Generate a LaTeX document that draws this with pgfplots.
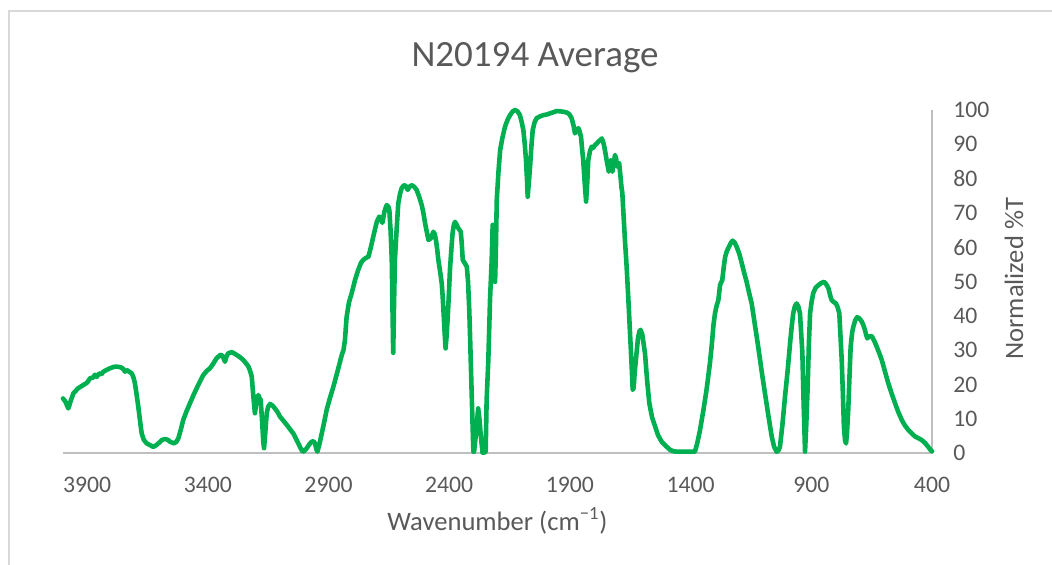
\documentclass[border=0pt]{standalone}
\usepackage{pgfplots}
\usepackage{pgfplotstable}
\pgfplotsset{compat=1.18}
\usepackage{fontspec}
\setmainfont{Carlito}
\definecolor{txt}{HTML}{595959}
\definecolor{axgray}{HTML}{BFBFBF}
\definecolor{framegray}{HTML}{D9D9D9}
\definecolor{linegreen}{HTML}{00B050}

\pgfplotstableread{
wn val
4000 15.9
3990 15.0
3978 13.0
3965 15.8
3957 17.4
3937 18.9
3916 19.8
3900 20.5
3888 21.8
3875 22.0
3868 22.8
3860 22.2
3850 23.2
3840 23.0
3833 23.7
3820 24.2
3805 24.7
3790 25.1
3778 25.2
3761 25.0
3750 24.5
3743 23.7
3736 24.2
3730 23.9
3715 23.2
3708 22.0
3702 20.3
3695 17.0
3688 13.5
3681 9.5
3674 5.7
3665 3.8
3653 2.8
3640 2.3
3626 1.8
3615 2.2
3605 2.8
3590 3.8
3577 4.1
3565 3.8
3557 3.3
3540 2.8
3530 3.3
3522 4.3
3512 6.8
3502 9.6
3488 12.2
3474 14.5
3460 16.8
3446 18.9
3432 20.9
3419 22.7
3405 23.9
3391 24.7
3378 26.0
3364 27.6
3350 28.5
3343 28.6
3336 27.8
3329 26.6
3322 28.3
3315 29.1
3301 29.4
3290 29.0
3281 28.6
3268 28.0
3253 27.1
3240 26.0
3232 25.2
3225 24.0
3218 22.2
3212 17.0
3205 11.6
3198 15.0
3191 16.9
3186 16.0
3181 15.5
3175 9.0
3170 3.0
3167 1.4
3163 5.0
3156 11.6
3150 13.5
3142 14.3
3132 13.8
3122 13.0
3110 11.8
3101 10.6
3088 9.5
3073 8.2
3060 7.0
3046 5.7
3035 4.2
3025 2.8
3015 1.3
3007 0.4
3000 0.6
2990 1.4
2980 2.5
2970 3.3
2962 3.4
2956 2.8
2950 1.0
2946 0.4
2938 2.5
2928 5.7
2918 9.0
2908 12.5
2895 15.8
2880 19.3
2862 24.0
2845 28.6
2838 30.0
2832 32.9
2825 39.7
2815 44.0
2804 46.6
2790 50.5
2777 53.4
2765 55.5
2756 56.3
2745 56.9
2735 57.2
2728 59.0
2721 61.1
2710 64.5
2700 67.4
2690 68.9
2683 68.5
2677 67.1
2668 70.5
2659 72.3
2652 71.8
2648 70.8
2643 65.0
2638 56.3
2635 42.0
2632 29.2
2629 42.0
2625 56.3
2618 65.0
2611 72.8
2604 75.5
2597 77.2
2590 77.9
2583 78.1
2577 77.5
2572 76.7
2565 77.6
2556 78.1
2545 77.6
2535 76.7
2525 74.8
2514 72.3
2507 70.0
2500 67.0
2493 64.5
2486 62.1
2476 62.6
2470 63.7
2466 64.5
2460 63.8
2455 62.1
2450 59.5
2445 56.3
2438 53.0
2431 49.5
2427 45.5
2424 41.7
2419 35.0
2415 30.5
2411 34.0
2406 39.7
2401 47.0
2397 53.4
2391 59.5
2386 64.1
2381 66.5
2376 67.4
2369 66.5
2362 65.5
2352 64.5
2348 61.0
2344 56.3
2335 55.3
2327 54.3
2322 50.0
2317 41.7
2314 34.9
2307 17.4
2300 0.4
2297 0.4
2289 5.7
2280 13.0
2275 10.0
2270 5.7
2262 0.1
2255 0.1
2249 0.4
2245 15.5
2238 27.1
2231 44.6
2224 56.3
2220 66.5
2217 66.5
2213 58.0
2210 49.9
2207 58.0
2203 73.8
2196 82.0
2189 88.3
2180 91.8
2169 95.1
2158 97.2
2148 98.5
2137 99.6
2127 100.0
2117 99.6
2107 98.5
2100 96.5
2093 94.2
2087 90.0
2082 85.4
2078 80.0
2075 74.7
2070 79.0
2065 83.5
2060 89.0
2054 94.2
2046 96.5
2038 97.6
2025 98.1
2010 98.5
1995 98.7
1983 99.0
1970 99.3
1955 99.7
1940 99.6
1928 99.5
1915 99.3
1907 99.0
1900 98.5
1893 97.6
1885 95.5
1879 93.2
1872 94.0
1865 94.7
1860 93.8
1854 92.2
1850 89.0
1845 85.4
1839 79.0
1833 73.3
1828 79.0
1824 85.4
1817 88.0
1810 89.3
1803 89.0
1796 89.8
1789 90.2
1782 90.8
1775 91.2
1768 91.7
1763 90.8
1759 89.8
1753 87.5
1748 85.4
1743 83.5
1739 82.0
1735 84.5
1731 85.4
1727 83.5
1724 82.0
1719 84.5
1713 86.9
1708 85.5
1704 83.5
1700 84.3
1696 84.5
1691 81.0
1686 77.2
1683 76.0
1679 70.8
1672 62.0
1665 54.3
1658 45.0
1651 34.9
1644 25.0
1640 18.4
1636 19.0
1631 24.0
1624 29.1
1618 33.5
1612 35.5
1607 35.9
1600 34.5
1595 32.0
1589 29.1
1580 21.0
1571 14.5
1560 10.5
1547 7.7
1535 5.2
1520 3.3
1505 2.2
1485 0.9
1470 0.5
1458 0.4
1420 0.4
1382 0.4
1372 3.0
1361 6.7
1347 12.5
1334 18.4
1320 26.2
1313 31.0
1305 37.5
1299 40.7
1292 43.0
1285 44.6
1278 49.0
1269 50.4
1263 54.0
1257 57.2
1249 59.0
1241 60.1
1233 61.3
1226 61.9
1217 61.3
1209 60.1
1198 58.0
1188 55.3
1178 52.5
1168 49.9
1158 46.8
1147 43.6
1135 38.0
1120 31.0
1106 24.0
1092 17.4
1078 11.0
1064 4.8
1054 1.8
1044 0.4
1037 0.6
1030 1.8
1020 8.0
1009 16.4
998 24.0
988 32.0
981 37.0
975 40.7
968 42.8
961 43.6
954 42.8
947 40.7
942 35.0
937 29.1
932 15.0
926 0.4
921 8.0
915 19.3
910 32.0
905 40.7
899 44.0
892 46.6
882 48.2
871 48.9
860 49.5
847 49.9
838 49.2
829 48.0
822 46.0
816 44.6
807 44.0
798 43.6
791 42.5
784 40.7
779 34.0
774 27.1
769 17.0
765 7.7
760 3.5
756 2.8
752 6.0
747 12.5
742 22.0
737 31.0
731 35.0
726 36.8
718 38.7
710 39.6
700 39.2
691 38.3
684 37.2
678 35.9
673 34.5
668 33.4
660 34.0
650 34.1
640 32.8
629 31.0
618 29.0
608 27.1
595 23.8
581 20.3
567 17.3
553 14.5
540 12.0
525 9.6
512 8.0
498 6.7
484 5.7
470 4.8
456 4.3
443 3.8
430 3.0
418 2.0
406 0.9
400 0.5
}\spectrum

\begin{document}
\begin{tikzpicture}[x=1pt,y=1pt]
\useasboundingbox (0,0) rectangle (526,-282.5);
\draw[framegray, line width=0.9pt] (4.6,-282.5) -- (4.6,-5.6) -- (526,-5.6);
\node[anchor=base, font=\fontsize{18.5pt}{22pt}\selectfont, text=txt] at (267.5,-33.35) {N20194 Average};
\node[anchor=base, font=\fontsize{13.3pt}{16pt}\selectfont, text=txt] at (248.75,-265) {Wavenumber (cm\textsuperscript{−1})};
\node[rotate=90, anchor=center, font=\fontsize{13.3pt}{16pt}\selectfont, text=txt] at (507,-139.4) {Normalized \%T};
\begin{axis}[
  at={(31.5pt,-226.5pt)}, anchor=south west,
  scale only axis, width=434.5pt, height=171.5pt,
  xmin=400, xmax=4000, ymin=0, ymax=100,
  x dir=reverse,
  xtick={400,900,...,3900},
  ytick={0,10,...,100},
  axis line style={draw=none},
  major tick length=0pt,
  tick style={draw=none},
  yticklabel pos=right,
  clip=false,
  /pgf/number format/assume math mode=true,
  /pgf/number format/1000 sep={},
  ticklabel style={font=\fontsize{11.85pt}{14pt}\selectfont, text=txt},
  xticklabel style={anchor=base, yshift=-19.5pt, inner sep=0pt},
  yticklabel style={anchor=west, xshift=10.5pt, inner sep=0pt},
]
\draw[axgray, line width=0.75pt] (axis cs:4000,0) -- (axis cs:400,0) -- (axis cs:400,100);
\addplot[linegreen, line width=2.3pt, line join=round, line cap=round, no markers] table[x=wn, y=val] {\spectrum};
\end{axis}
\end{tikzpicture}
\end{document}
